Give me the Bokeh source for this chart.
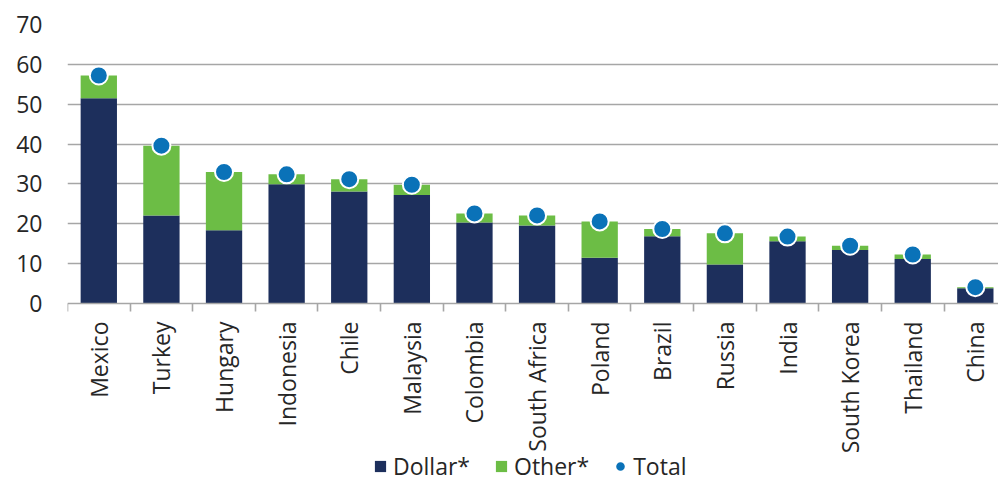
import math
from bokeh.plotting import figure
from bokeh.models import Range1d, FixedTicker, Legend, LegendItem, ColumnDataSource
from bokeh.embed import file_html
from bokeh.resources import INLINE

countries = ["Mexico", "Turkey", "Hungary", "Indonesia", "Chile", "Malaysia", "Colombia",
             "South Africa", "Poland", "Brazil", "Russia", "India", "South Korea", "Thailand", "China"]
dollar = [51.5, 22.1, 18.4, 29.9, 28.1, 27.2, 20.3, 19.6, 11.5, 16.9, 9.8, 15.6, 13.4, 11.2, 3.8]
other = [5.7, 17.5, 14.6, 2.5, 3.1, 2.6, 2.3, 2.5, 9.1, 1.8, 7.8, 1.2, 1.1, 1.1, 0.3]
total = [round(d + o, 1) for d, o in zip(dollar, other)]
y_ticks = [0, 10, 20, 30, 40, 50, 60, 70]

NAVY = "#1d2f5c"
GREEN = "#6cbd45"
BLUE = "#0a72b8"
GRID = "#a6a6a6"
TEXT = "#262626"
FONT = "Open Sans"
FS = "23px"

idx = list(range(len(countries)))
src = ColumnDataSource(dict(x=idx, dollar=dollar, other=other, total=total,
                            top_other=total, zero=[0] * len(idx)))

# frame extends below the value axis so that the category labels and legend fit inside it
p = figure(frame_width=931, frame_height=470, output_backend="svg", toolbar_location=None,
           x_range=Range1d(-0.5, 14.37), y_range=Range1d(70 - 470 / 3.986, 70),
           min_border_left=67, min_border_right=0, min_border_top=24, min_border_bottom=0)
p.outline_line_color = None
p.background_fill_color = "white"
p.border_fill_color = "white"

r_d = p.vbar(x="x", bottom="zero", top="dollar", width=0.58, source=src,
             fill_color=NAVY, line_color=None)
r_o = p.vbar(x="x", bottom="dollar", top="top_other", width=0.58, source=src,
             fill_color=GREEN, line_color=None)
# solid small dots (hidden under the main markers) used for the legend swatch
r_tl = p.scatter(x="x", y="total", source=src, size=9, fill_color=BLUE,
                 line_color=BLUE, line_width=3)
r_t = p.scatter(x="x", y="total", source=src, size=18, fill_color=BLUE,
                line_color="white", line_width=2)

# y axis
p.yaxis.ticker = FixedTicker(ticks=y_ticks)
p.yaxis.axis_line_color = None
p.yaxis.major_tick_line_color = None
p.yaxis.minor_tick_line_color = None
p.yaxis.major_tick_out = 0
p.yaxis.major_label_standoff = 25
p.yaxis.major_label_text_font = FONT
p.yaxis.major_label_text_font_size = FS
p.yaxis.major_label_text_color = TEXT
p.ygrid.ticker = FixedTicker(ticks=y_ticks[1:])
p.ygrid.grid_line_color = GRID
p.ygrid.grid_line_width = 1.6

# x axis, drawn at value 0
p.xgrid.grid_line_color = None
p.xaxis.fixed_location = 0
p.xaxis.ticker = FixedTicker(ticks=idx, minor_ticks=[i - 0.5 for i in idx] + [14.5])
p.xaxis.major_label_overrides = {i: c for i, c in enumerate(countries)}
p.xaxis.major_label_orientation = math.pi / 2
p.xaxis.axis_line_color = GRID
p.xaxis.axis_line_width = 1.6
p.xaxis.major_tick_line_color = None
p.xaxis.major_tick_out = 0
p.xaxis.major_tick_in = 0
p.xaxis.minor_tick_line_color = GRID
p.xaxis.minor_tick_line_width = 1.6
p.xaxis.minor_tick_out = 8
p.xaxis.minor_tick_in = 0
p.xaxis.major_label_standoff = 10
p.xaxis.major_label_text_font = FONT
p.xaxis.major_label_text_font_size = FS
p.xaxis.major_label_text_color = TEXT

legend = Legend(items=[LegendItem(label="Dollar*", renderers=[r_d]),
                       LegendItem(label="Other*", renderers=[r_o]),
                       LegendItem(label="Total", renderers=[r_tl])],
                orientation="horizontal", location=(306, 12),
                label_text_font=FONT, label_text_font_size=FS, label_text_color=TEXT,
                glyph_width=14, glyph_height=14, label_standoff=6, spacing=24,
                margin=0, padding=0, border_line_color=None, background_fill_alpha=0)
p.add_layout(legend, "center")

open("out.html", "w").write(file_html(p, INLINE))
